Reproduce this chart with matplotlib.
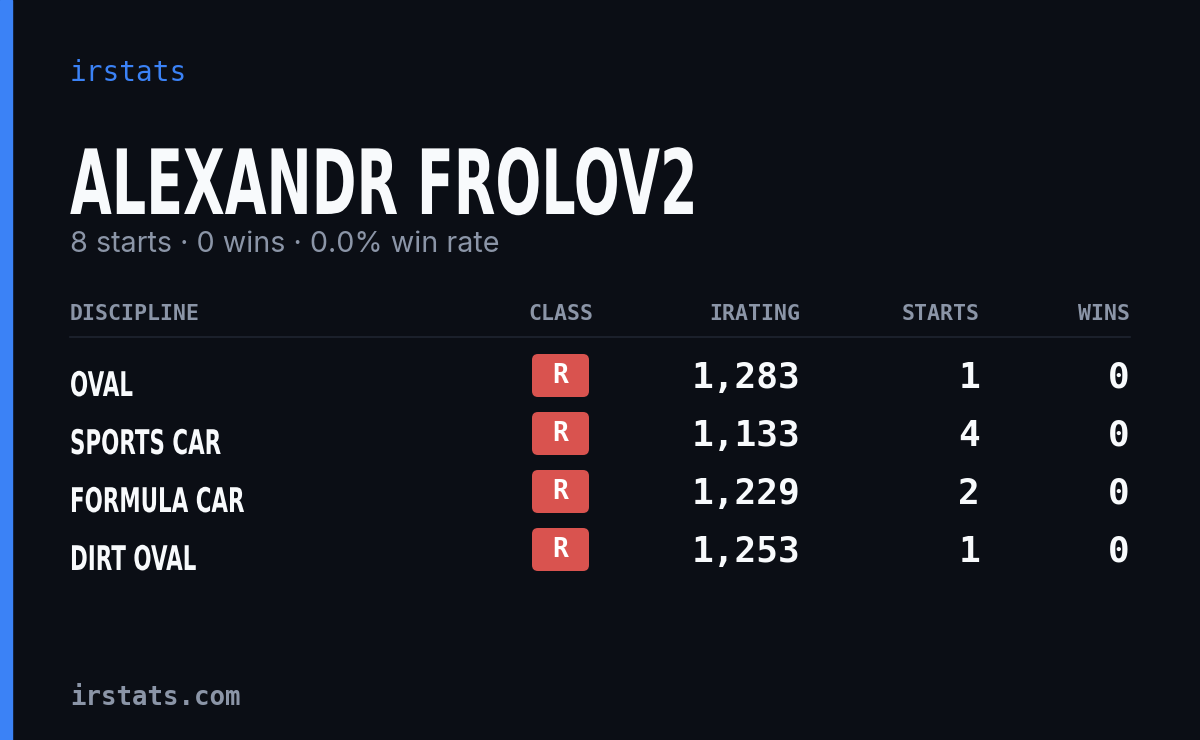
import matplotlib
matplotlib.use("Agg")
import matplotlib.pyplot as plt
from matplotlib.patches import FancyBboxPatch, Rectangle, PathPatch
from matplotlib.textpath import TextPath
from matplotlib.font_manager import FontProperties
from matplotlib.transforms import Affine2D

name = "ALEXANDR FROLOV2"
subtitle = "8 starts · 0 wins · 0.0% win rate"
headers = ["DISCIPLINE", "CLASS", "IRATING", "STARTS", "WINS"]
disciplines = ["OVAL", "SPORTS CAR", "FORMULA CAR", "DIRT OVAL"]
classes = ["R", "R", "R", "R"]
iratings = [1283, 1133, 1229, 1253]
starts = [1, 4, 2, 1]
wins = [0, 0, 0, 0]

W, H = 1200, 740
fig = plt.figure(figsize=(12, 7.4), dpi=100)
fig.patch.set_facecolor("#0b0e15")
ax = fig.add_axes([0, 0, 1, 1])
ax.set_xlim(0, W); ax.set_ylim(H, 0); ax.axis("off")

ax.add_patch(Rectangle((0, 0), 12, H, color="#3b82f6"))
mono = "DejaVu Sans Mono"
sans = ["Inter", "DejaVu Sans"]
bold_fp = FontProperties(family="DejaVu Sans", weight="bold")

def narrow_text(x, y_base, s, size_px, sx, color):
    tp = TextPath((0, 0), s, size=size_px, prop=bold_fp)
    tr = Affine2D().scale(sx, -1).translate(x, y_base)
    ax.add_patch(PathPatch(tr.transform_path(tp), color=color, lw=0))

ax.text(70, 73, "irstats", family=mono, fontsize=20, color="#3b82f6", va="center")
narrow_text(70, 214, name, 90, 0.6, "#f8fafc")
ax.text(70, 245, subtitle, family=sans, fontsize=20.7, color="#8b95a7", va="center")

hx = [70, 593, 800, 980, 1130]
ha = ["left", "right", "right", "right", "right"]
for x, h, a in zip(hx, headers, ha):
    ax.text(x, 314, h, family=mono, fontsize=15.5, fontweight="bold", color="#8b95a7", ha=a, va="center")
ax.plot([70, 1130], [337, 337], color="#1f2430", lw=1.2)

for i, d in enumerate(disciplines):
    y = 378 + 58 * i
    narrow_text(70, y + 18, d, 34, 0.63, "#f8fafc")
    ax.add_patch(FancyBboxPatch((532, y - 24), 57, 43, boxstyle="round,pad=0,rounding_size=6",
                                color="#d9534f", lw=0))
    ax.text(560.5, y - 2, classes[i], family=mono, fontweight="bold", fontsize=19, color="white",
            ha="center", va="center")
    ax.text(800, y, f"{iratings[i]:,}", family=mono, fontweight="bold", fontsize=26, color="#f8fafc", ha="right", va="center")
    ax.text(980, y, str(starts[i]), family=mono, fontweight="bold", fontsize=26, color="#f8fafc", ha="right", va="center")
    ax.text(1130, y, str(wins[i]), family=mono, fontweight="bold", fontsize=26, color="#f8fafc", ha="right", va="center")

ax.text(70, 698, "irstats.com", family=mono, fontsize=18.5, fontweight="bold", color="#8b95a7", va="center")
fig.savefig("out.png", dpi=100, facecolor=fig.get_facecolor())
